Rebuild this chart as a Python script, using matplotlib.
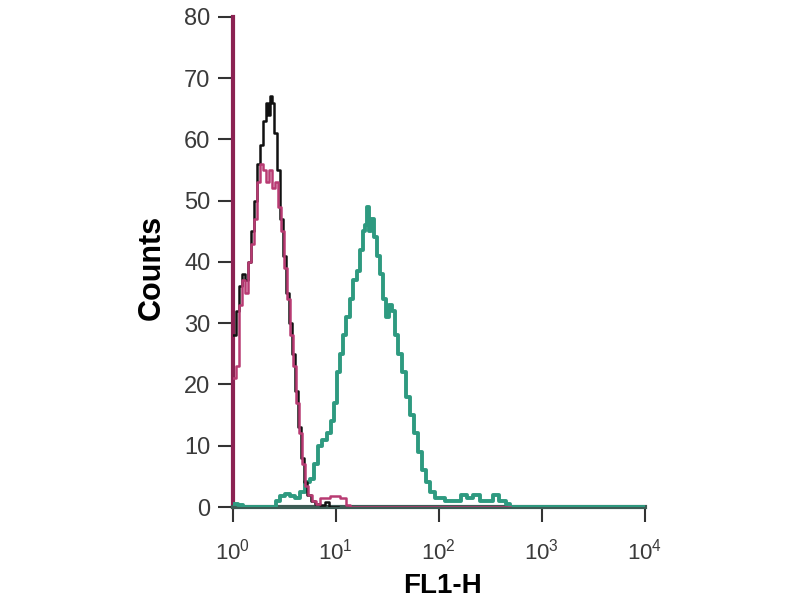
import matplotlib
matplotlib.use("Agg")
import matplotlib.pyplot as plt

plt.rcParams['font.family'] = ['Liberation Sans', 'DejaVu Sans']
plt.rcParams['mathtext.default'] = 'regular'

# isotype control (black)
black_x = [1.00, 1.07, 1.14, 1.22, 1.31, 1.40, 1.50, 1.60, 1.71, 1.83, 1.96, 2.09,
           2.19, 2.29, 2.39, 2.50, 2.67, 2.86, 3.06, 3.27, 3.50, 3.74, 4.00, 4.28,
           4.57, 4.89, 5.23, 5.72, 6.25, 6.99, 7.82, 8.55, 10.5]
black_y = [28, 32, 36, 38, 37, 40, 45, 50, 56, 59, 63, 66,
           64, 67, 66, 61, 55, 47, 41, 35, 30, 25, 19, 13,
           8, 4, 2, 1, 0.5, 0.3, 0.8, 0, 0]

# unstained cells (magenta)
mag_x = [1.00, 1.07, 1.14, 1.22, 1.31, 1.40, 1.50, 1.60, 1.71, 1.83, 1.96, 2.09,
         2.24, 2.39, 2.56, 2.73, 2.92, 3.12, 3.34, 3.58, 3.82, 4.09, 4.38, 4.68,
         5.00, 5.35, 5.85, 6.40, 6.99, 8.75, 10.9, 12.5, 13.7, 490]
mag_y = [21, 23, 33, 37, 35, 40, 43, 47, 53, 56, 55, 53,
         55, 52, 53, 49, 45, 39, 34, 28, 23, 17, 12, 7,
         3.5, 2, 1, 0.5, 1.5, 1.8, 1.5, 0.3, 0, 0]

# antibody stained cells (teal)
teal_x = [1.00, 1.12, 1.25, 2.45, 2.61, 2.86, 3.20, 3.58, 4.00, 4.47, 5.00, 5.60,
          6.12, 6.70, 7.30, 8.18, 8.93, 9.56, 10.2, 10.9, 11.7, 12.5, 13.7, 14.6,
          16.0, 17.1, 18.2, 19.1, 20.0, 21.0, 21.9, 23.4, 25.0, 26.7, 28.6, 30.6,
          32.7, 34.9, 37.3, 39.9, 43.6, 47.7, 52.1, 57.0, 62.3, 68.1, 74.4, 81.4,
          91.3, 114, 143, 164, 187, 214, 250, 292, 334, 388, 446, 490, 10000]
teal_y = [0.5, 0.3, 0, 0, 1, 1.8, 2.2, 1.8, 1.5, 2.5, 4, 4.5,
          7, 10, 11, 12, 14, 17, 22, 25, 28, 31, 34, 37,
          38.5, 42, 45, 46, 49, 45, 47, 44, 41, 38, 34, 31,
          33, 32, 28, 25, 22, 18, 15, 12, 9, 6, 4, 2.5,
          1.5, 1, 1, 2, 1.5, 2, 1, 1, 2, 1, 0.5, 0, 0]

xticks = [1, 10, 100, 1000, 10000]
xtick_labels = ['$10^{0}$', '$10^{1}$', '$10^{2}$', '$10^{3}$', '$10^{4}$']
yticks = [0, 10, 20, 30, 40, 50, 60, 70, 80]

fig = plt.figure(figsize=(8, 6), dpi=100)
ax = fig.add_axes([0.291, 0.155, 0.515, 0.817])

ax.step(teal_x, teal_y, where='post', color='#2e9a80', lw=2.8, zorder=3)
ax.step(black_x, black_y, where='post', color='#111111', lw=1.8, zorder=4)
ax.step(mag_x, mag_y, where='post', color='#b83a72', lw=1.8, zorder=5)

ax.set_xscale('log')
ax.set_xlim(1, 10000)
ax.set_ylim(0, 80)
ax.set_xticks(xticks)
ax.set_xticklabels(xtick_labels)
ax.minorticks_off()
ax.set_yticks(yticks)

for side in ['top', 'right']:
    ax.spines[side].set_visible(False)
ax.spines['left'].set_color('#8b2252')
ax.spines['left'].set_linewidth(3)
ax.spines['bottom'].set_color('#3d5c55')
ax.spines['bottom'].set_linewidth(3)

ax.tick_params(axis='y', direction='out', length=11, width=1.5, color='#333333',
               labelsize=17, labelcolor='#3a3a3a', pad=5)
ax.tick_params(axis='x', direction='out', length=11, width=1.5, color='#333333',
               labelsize=16, labelcolor='#3a3a3a', pad=12)

ax.set_ylabel('Counts', fontsize=22, fontweight='bold')
ax.yaxis.set_label_coords(-0.16, 0.488)
ax.set_xlabel('FL1-H', fontsize=20, fontweight='bold')
ax.xaxis.set_label_coords(0.51, -0.135)

plt.savefig('out.png', dpi=100)
